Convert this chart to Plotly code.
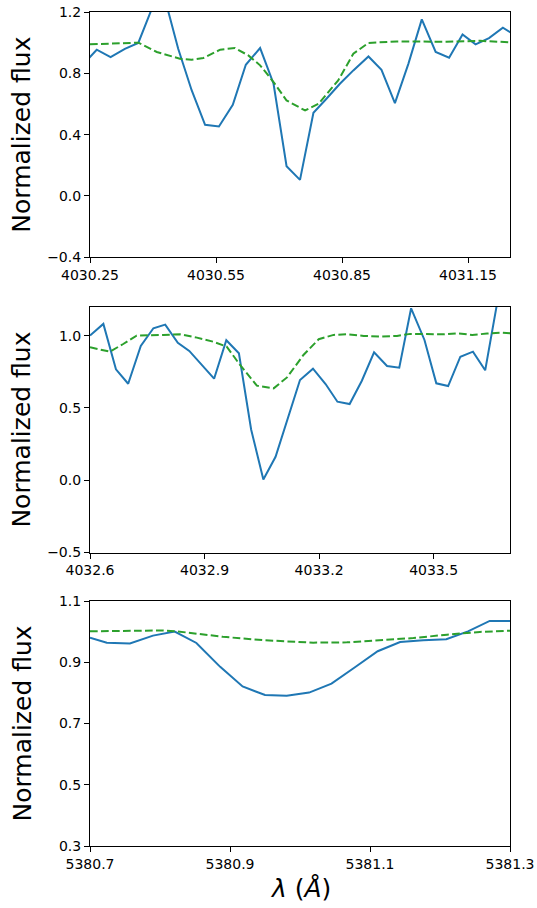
import plotly.graph_objects as go

# ---------------- data ----------------
# Panel 1
p1_obs_x = [4030.234, 4030.266, 4030.299, 4030.333, 4030.365, 4030.397, 4030.429, 4030.460,
            4030.492, 4030.524, 4030.557, 4030.590, 4030.621, 4030.655, 4030.687, 4030.718,
            4030.750, 4030.782, 4030.813, 4030.845, 4030.877, 4030.913, 4030.944, 4030.976,
            4031.008, 4031.040, 4031.073, 4031.105, 4031.137, 4031.168, 4031.200, 4031.233,
            4031.264]
p1_obs_y = [0.858, 0.954, 0.906, 0.960, 0.998, 1.220, 1.280, 0.960,
            0.690, 0.464, 0.453, 0.595, 0.856, 0.965, 0.732, 0.194,
            0.105, 0.543, 0.634, 0.732, 0.819, 0.910, 0.823, 0.606,
            0.862, 1.152, 0.939, 0.902, 1.054, 0.989, 1.030, 1.098,
            1.045]
p1_mod_x = [4030.250, 4030.306, 4030.365, 4030.409, 4030.464, 4030.492, 4030.520, 4030.560,
            4030.595, 4030.627, 4030.655, 4030.687, 4030.718, 4030.762, 4030.794, 4030.841,
            4030.877, 4030.913, 4030.980, 4031.099, 4031.179, 4031.250]
p1_mod_y = [0.989, 0.992, 1.000, 0.939, 0.895, 0.889, 0.900, 0.954,
            0.965, 0.917, 0.852, 0.743, 0.623, 0.558, 0.601, 0.754,
            0.928, 0.998, 1.008, 1.006, 1.012, 1.002]

# Panel 2
p2_obs_x = [4032.600, 4032.635, 4032.668, 4032.700, 4032.733, 4032.766, 4032.797, 4032.830,
            4032.860, 4032.893, 4032.925, 4032.957, 4032.990, 4033.022, 4033.054, 4033.086,
            4033.118, 4033.150, 4033.184, 4033.217, 4033.248, 4033.280, 4033.312, 4033.344,
            4033.378, 4033.410, 4033.441, 4033.476, 4033.507, 4033.538, 4033.570, 4033.603,
            4033.635, 4033.668, 4033.700]
p2_obs_y = [1.000, 1.081, 0.767, 0.667, 0.928, 1.051, 1.076, 0.951,
            0.894, 0.797, 0.702, 0.968, 0.878, 0.351, 0.005, 0.162,
            0.432, 0.693, 0.771, 0.665, 0.543, 0.527, 0.688, 0.885,
            0.790, 0.778, 1.189, 0.970, 0.670, 0.651, 0.854, 0.889,
            0.760, 1.250, 1.350]
p2_mod_x = [4032.600, 4032.652, 4032.687, 4032.722, 4032.792, 4032.836, 4032.880, 4032.923,
            4032.958, 4032.993, 4033.037, 4033.081, 4033.116, 4033.159, 4033.199, 4033.238,
            4033.273, 4033.317, 4033.360, 4033.404, 4033.439, 4033.491, 4033.526, 4033.561,
            4033.601, 4033.640, 4033.675, 4033.701]
p2_mod_y = [0.919, 0.889, 0.942, 1.000, 1.005, 1.009, 0.986, 0.958,
            0.924, 0.797, 0.654, 0.635, 0.711, 0.866, 0.975, 1.005,
            1.009, 0.998, 0.993, 0.998, 1.012, 1.012, 1.009, 1.016,
            1.005, 1.014, 1.021, 1.016]

# Panel 3
p3_obs_x = [5380.700, 5380.724, 5380.757, 5380.790, 5380.821, 5380.852, 5380.886, 5380.918,
            5380.950, 5380.981, 5381.013, 5381.045, 5381.078, 5381.111, 5381.143, 5381.176,
            5381.209, 5381.240, 5381.271, 5381.300]
p3_obs_y = [0.980, 0.964, 0.961, 0.987, 1.000, 0.963, 0.885, 0.821,
            0.793, 0.791, 0.801, 0.830, 0.883, 0.936, 0.966, 0.972,
            0.975, 1.001, 1.035, 1.035]
p3_mod_x = [5380.700, 5380.757, 5380.805, 5380.824, 5380.852, 5380.890, 5380.948, 5381.019,
            5381.067, 5381.114, 5381.162, 5381.210, 5381.257, 5381.300]
p3_mod_y = [1.001, 1.003, 1.004, 1.001, 0.993, 0.983, 0.972, 0.964,
            0.965, 0.972, 0.979, 0.990, 0.999, 1.003]

# axis settings
x_ranges = [[4030.25, 4031.25], [4032.6, 4033.7], [5380.7, 5381.3]]
y_ranges = [[-0.4, 1.2], [-0.5, 1.2], [0.3, 1.1]]
x_ticks = [[4030.25, 4030.55, 4030.85, 4031.15], [4032.6, 4032.9, 4033.2, 4033.5],
           [5380.7, 5380.9, 5381.1, 5381.3]]
x_ticklabels = [["4030.25", "4030.55", "4030.85", "4031.15"], ["4032.6", "4032.9", "4033.2", "4033.5"],
                ["5380.7", "5380.9", "5381.1", "5381.3"]]
y_ticks = [[-0.4, 0.0, 0.4, 0.8, 1.2], [-0.5, 0.0, 0.5, 1.0], [0.3, 0.5, 0.7, 0.9, 1.1]]
y_ticklabels = [["\u22120.4", "0.0", "0.4", "0.8", "1.2"], ["\u22120.5", "0.0", "0.5", "1.0"],
                ["0.3", "0.5", "0.7", "0.9", "1.1"]]
y_label = "Normalized flux"
x_label = "<i>λ</i> (<i>Å</i>)"

# ---------------- figure ----------------
W, H = 537, 908
BLUE = "#1f77b4"
GREEN = "#2ca02c"
FONT = "DejaVu Sans"

panels_px = [(12, 257.3), (306.7, 552.5), (601, 846)]  # top, bottom in px
x_dom = [90 / W, 510 / W]

obs = [(p1_obs_x, p1_obs_y), (p2_obs_x, p2_obs_y), (p3_obs_x, p3_obs_y)]
mod = [(p1_mod_x, p1_mod_y), (p2_mod_x, p2_mod_y), (p3_mod_x, p3_mod_y)]

fig = go.Figure()
layout = dict(width=W, height=H, margin=dict(l=0, r=0, t=0, b=0, pad=0, autoexpand=False),
              paper_bgcolor="white", plot_bgcolor="white", showlegend=False,
              font=dict(family=FONT, color="black", size=14))
annotations = []
for i in range(3):
    sfx = "" if i == 0 else str(i + 1)
    fig.add_trace(go.Scatter(x=obs[i][0], y=obs[i][1], mode="lines",
                             line=dict(color=BLUE, width=2), xaxis="x" + sfx, yaxis="y" + sfx))
    fig.add_trace(go.Scatter(x=mod[i][0], y=mod[i][1], mode="lines",
                             line=dict(color=GREEN, width=2, dash="7.7px,3.3px"),
                             xaxis="x" + sfx, yaxis="y" + sfx))
    top, bot = panels_px[i]
    common = dict(showline=True, mirror=True, linecolor="black", linewidth=1.1,
                  ticks="outside", ticklen=5, tickwidth=1.1, tickcolor="black",
                  showgrid=False, zeroline=False, automargin=False,
                  tickfont=dict(size=14, family=FONT, color="black"))
    layout["xaxis" + sfx] = dict(domain=x_dom, range=x_ranges[i], anchor="y" + sfx,
                                 tickmode="array", tickvals=x_ticks[i], ticktext=x_ticklabels[i],
                                 **common)
    layout["yaxis" + sfx] = dict(domain=[1 - bot / H, 1 - top / H], range=y_ranges[i],
                                 anchor="x" + sfx, tickmode="array", tickvals=y_ticks[i],
                                 ticktext=y_ticklabels[i], **common)
    annotations.append(dict(text=y_label, x=22 / W, y=1 - (top + bot) / 2 / H,
                            xref="paper", yref="paper", xanchor="center", yanchor="middle",
                            textangle=-90, showarrow=False,
                            font=dict(size=25, family=FONT, color="black")))
annotations.append(dict(text=x_label, x=(90 + 510) / 2 / W, y=1 - 888 / H,
                        xref="paper", yref="paper", xanchor="center", yanchor="middle",
                        showarrow=False, font=dict(size=25, family=FONT, color="black")))
layout["annotations"] = annotations
fig.update_layout(**layout)
fig.write_html("out.html")
